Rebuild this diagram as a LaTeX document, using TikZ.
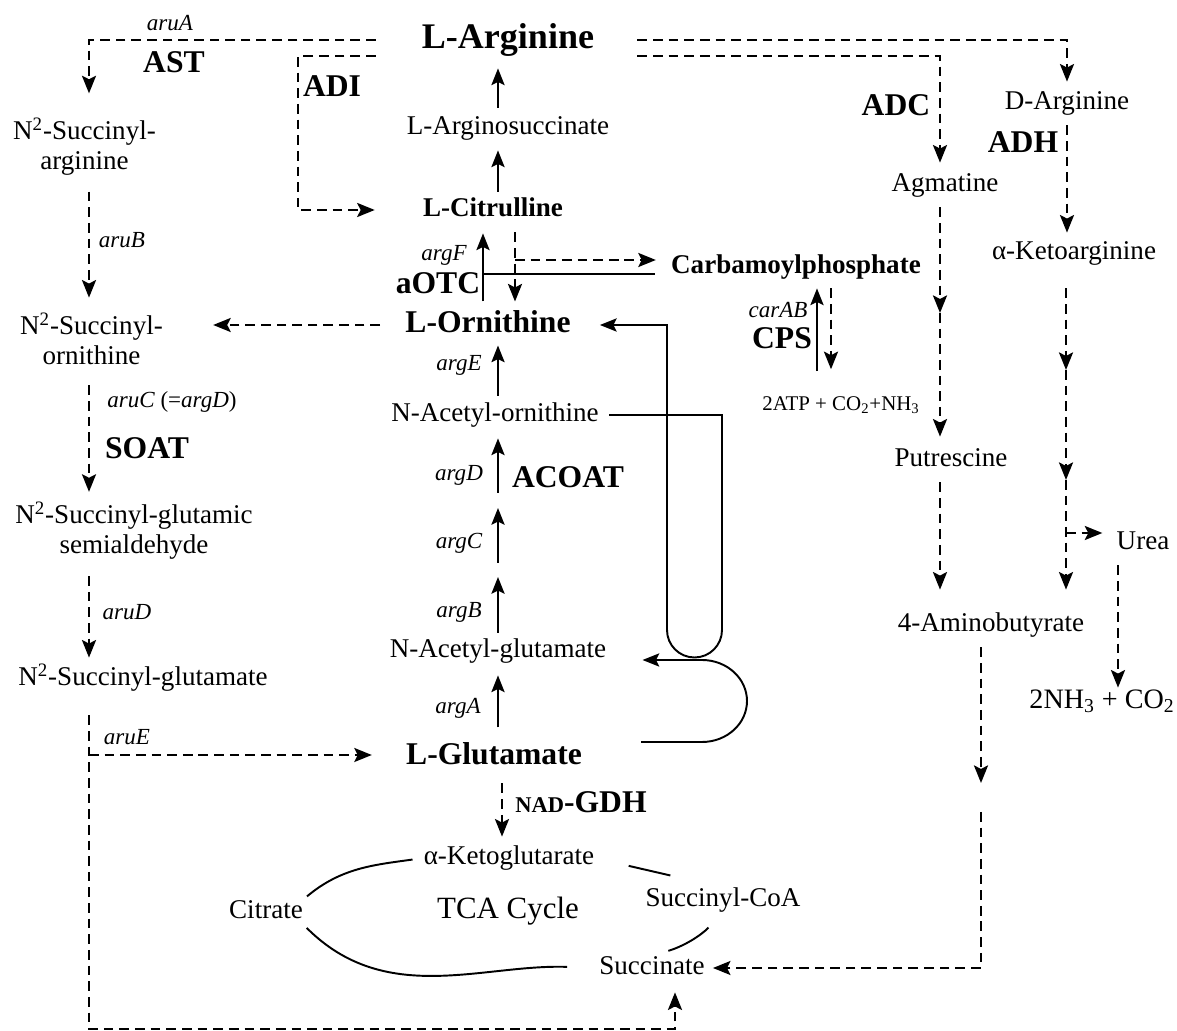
\documentclass[tikz,border=0pt]{standalone}
\usepackage{fontspec}
\setmainfont{Liberation Serif}
\usetikzlibrary{calc,arrows.meta}
\tikzset{
  txt/.style={inner sep=0pt, font=\fontsize{15.4}{17.1}\selectfont, text height=10.5pt, text depth=3.2pt},
  btxt/.style={txt, font=\bfseries\fontsize{15.4}{17.1}\selectfont},
  big/.style={inner sep=0pt, font=\bfseries\fontsize{18}{20}\selectfont, text height=12.3pt, text depth=3.8pt},
  two/.style={inner sep=0pt, align=center, font=\fontsize{15.4}{17.1}\selectfont},
  gene/.style={inner sep=0pt, font=\itshape\fontsize{13.1}{15}\selectfont},
  enz/.style={inner sep=0pt, font=\bfseries\fontsize{18}{20}\selectfont},
  ln/.style={line width=1.1pt},
  ar/.style={line width=1.1pt, -{Stealth[length=9.5pt,width=7.5pt,inset=1.8pt]}},
  dar/.style={line width=1.2pt, dash pattern=on 5.5pt off 3.4pt, -{Stealth[length=10pt,width=8pt,inset=2pt]}}
}
\begin{document}
\begin{tikzpicture}
\useasboundingbox (0,0) rectangle (23.54,-20.62);
\coordinate (lcol) at (1.78,0);
\coordinate (adic) at (5.96,0);
\coordinate (c1) at (9.96,0);
\coordinate (otc) at (9.66,0);
\coordinate (orc) at (10.30,0);
\coordinate (gdh) at (10.04,0);
\coordinate (cpu) at (16.34,0);
\coordinate (cpd) at (16.62,0);
\coordinate (acol) at (18.80,0);
\coordinate (kcol) at (21.32,0);
\coordinate (ucol) at (22.36,0);
\coordinate (gcol) at (19.62,0);
\coordinate (i1) at (9.96,-10.00);
\coordinate (i2) at (9.96,-11.40);
\coordinate (cpb) at (10.30,-5.20);
\coordinate (otcj) at (9.66,-5.48);
\coordinate (lpR) at (14.44,-12.60);
\coordinate (gluR) at (12.82,-14.84);
\coordinate (m1) at (18.80,-6.26);
\coordinate (k1) at (21.32,-7.40);
\coordinate (k2) at (21.32,-9.60);
\coordinate (k3) at (21.32,-10.66);
\coordinate (g1) at (19.62,-15.66);
\coordinate (g2) at (19.62,-16.24);
\coordinate (bot) at (13.50,-20.58);
\coordinate (aruEj) at (1.78,-15.10);

\node[big, font=\bfseries\fontsize{20.5}{22}\selectfont, text height=14pt, text depth=4.3pt] (arg) at (10.16,-0.80) {L-Arginine};
\node[txt] (argsuc) at (10.16,-2.56) {L-Arginosuccinate};
\node[btxt] (cit) at (9.86,-4.20) {L-Citrulline};
\node[big] (orn) at (9.76,-6.50) {L-Ornithine};
\node[txt] (acorn) at (9.90,-8.30) {N-Acetyl-ornithine};
\node[txt] (acglu) at (9.96,-13.02) {N-Acetyl-glutamate};
\node[big] (glu) at (9.88,-15.14) {L-Glutamate};
\node[txt] (akg) at (10.18,-17.16) {α-Ketoglutarate};
\node[txt] (citr) at (5.32,-18.24) {Citrate};
\node[txt, font=\fontsize{17.6}{20}\selectfont] (tca) at (10.16,-18.24) {TCA Cycle};
\node[txt] (sucoa) at (14.46,-18.00) {Succinyl-CoA};
\node[txt] (succ) at (13.04,-19.36) {Succinate};
\node[btxt] (carb) at (15.92,-5.34) {Carbamoylphosphate};
\node[txt, font=\fontsize{11.9}{13}\selectfont, text height=8.2pt, text depth=2.5pt] (atp) at (16.82,-8.10) {2ATP + CO\textsubscript{2}+NH\textsubscript{3}};
\node[two] (sarg) at (1.69,-2.93) {N\textsuperscript{2}-Succinyl-\\arginine};
\node[two] (sorn) at (1.83,-6.78) {N\textsuperscript{2}-Succinyl-\\ornithine};
\node[two] (sglsa) at (2.68,-10.62) {N\textsuperscript{2}-Succinyl-glutamic\\semialdehyde};
\node[txt] (sglu) at (2.86,-13.58) {N\textsuperscript{2}-Succinyl-glutamate};
\node[txt] (darg) at (21.34,-2.06) {D-Arginine};
\node[txt] (agm) at (18.90,-3.70) {Agmatine};
\node[txt] (aketo) at (21.48,-5.06) {α-Ketoarginine};
\node[txt] (put) at (19.02,-9.20) {Putrescine};
\node[txt] (gaba) at (19.82,-12.50) {4-Aminobutyrate};
\node[txt] (urea) at (22.86,-10.86) {Urea};
\node[txt, font=\fontsize{16}{18}\selectfont] (nh3) at (22.04,-14.04) {2NH\textsubscript{3} + CO\textsubscript{2}};

\node[gene] (naruA) at (3.40,-0.46) {aruA};
\node[enz] (nAST) at (3.48,-1.24) {AST};
\node[enz] (nADI) at (6.64,-1.72) {ADI};
\node[gene] (naruB) at (2.44,-4.80) {aruB};
\node[gene] (naruC) at (3.44,-8.04) {aruC {\upshape(=}argD{\upshape)}};
\node[enz] (nSOAT) at (2.94,-8.96) {SOAT};
\node[gene] (naruD) at (2.54,-12.24) {aruD};
\node[gene] (naruE) at (2.54,-14.74) {aruE};
\node[gene] (nargF) at (8.88,-5.10) {argF};
\node[enz] (naOTC) at (8.76,-5.66) {aOTC};
\node[gene] (nargE) at (9.18,-7.30) {argE};
\node[gene] (nargD) at (9.18,-9.50) {argD};
\node[enz] (nACOAT) at (11.36,-9.54) {ACOAT};
\node[gene] (nargC) at (9.18,-10.86) {argC};
\node[gene] (nargB) at (9.18,-12.24) {argB};
\node[gene] (nargA) at (9.16,-14.16) {argA};
\node[enz] (nGDH) at (11.62,-16.04) {{\fontsize{12.8}{14}\selectfont NAD}-GDH};
\node[gene] (ncarAB) at (15.56,-6.20) {carAB};
\node[enz] (nCPS) at (15.64,-6.76) {CPS};
\node[enz] (nADC) at (17.92,-2.10) {ADC};
\node[enz] (nADH) at (20.46,-2.84) {ADH};

\draw[ar, shorten <=0.16cm, shorten >=0.24cm] (argsuc.north -| c1) -- (arg.south -| c1);
\draw[ar, shorten <=0.12cm, shorten >=0.2cm] (cit.north -| c1) -- (argsuc.south -| c1);
\draw[ar, shorten <=0.18cm, shorten >=0.22cm] (orn.north -| otc) -- (cit.south -| otc);
\draw[dar, shorten <=0.2cm, shorten >=0.18cm] (cit.south -| orc) -- (orn.north -| orc);
\draw[dar, shorten >=0.3cm] (cpb) -- (cpb -| carb.west);
\draw[ln, shorten >=0.32cm] (otcj) -- (otcj -| carb.west);
\draw[ar, shorten <=0.14cm, shorten >=0.12cm] (acorn.north -| c1) -- (orn.south -| c1);
\draw[ar, shorten <=0.14cm, shorten >=0.22cm] (i1) -- (acorn.south -| c1);
\draw[ar, shorten <=0.14cm, shorten >=0.16cm] (i2) -- (i1);
\draw[ar, shorten <=0.12cm, shorten >=0.14cm] (acglu.north -| c1) -- (i2);
\draw[ar, shorten <=0.3cm, shorten >=0.24cm] (glu.north -| c1) -- (acglu.south -| c1);
\draw[dar, shorten <=0.24cm, shorten >=0.18cm] (glu.south -| gdh) -- (akg.north -| gdh);
\draw[ar, shorten <=0.48cm, shorten >=0.18cm] (atp.north -| cpu) -- (carb.south -| cpu);
\draw[dar, shorten <=0.18cm, shorten >=0.52cm] (carb.south -| cpd) -- (atp.north -| cpd);
\draw[ar, shorten <=0.2cm, shorten >=0.58cm] (acorn.east) -| (lpR) arc[start angle=0, end angle=-180, radius=0.55] |- (orn.east);
\draw[ar, shorten >=0.72cm] (gluR) -- ++(1.22,0) arc[start angle=-90, end angle=90, x radius=0.9, y radius=0.82] coordinate (nagT) -- (nagT -| acglu.east);

\draw[dar, shorten <=0.92cm, shorten >=0.48cm] (arg.west) -| (sarg.north -| lcol);
\draw[dar, shorten <=0.92cm, shorten >=0.96cm] (arg.south west) -- (arg.south west -| adic) |- (cit.west);
\draw[dar, shorten <=0.32cm, shorten >=0.3cm] (sarg.south -| lcol) -- (sorn.north -| lcol);
\draw[dar, shorten <=0.4cm, shorten >=0.2cm] (sorn.south -| lcol) -- (sglsa.north -| lcol);
\draw[dar, shorten <=0.32cm, shorten >=0.18cm] (sglsa.south -| lcol) -- (sglu.north -| lcol);
\draw[dar, shorten <=0.5cm, shorten >=1.0cm] (orn.west) -- (orn.west -| sorn.east);
\draw[dar, shorten <=0.48cm, shorten >=0.24cm] (sglu.south -| lcol) |- (bot) -- (succ.south -| bot);
\draw[dar, shorten >=0.68cm] (aruEj) -- (aruEj -| glu.west);

\draw[dar, shorten <=0.86cm, shorten >=0.18cm] (arg.east) -| (darg.north);
\draw[dar, shorten <=0.86cm, shorten >=0.2cm] (arg.south east) -| (agm.north -| acol);
\draw[dar, shorten <=0.2cm, shorten >=0.16cm] (darg.south) -- (darg.south |- aketo.north);
\draw[dar, shorten <=0.2cm] (agm.south -| acol) -- (m1);
\draw[dar, shorten >=0.22cm] (m1) -- (put.north -| acol);
\draw[dar, shorten <=0.2cm, shorten >=0.46cm] (put.south -| acol) -- (gaba.north -| acol);
\draw[dar, shorten <=0.46cm] (aketo.south -| kcol) -- (k1);
\draw[dar] (k1) -- (k2);
\draw[dar, shorten >=0.46cm] (k2) -- (gaba.north -| kcol);
\draw[dar, shorten >=0.28cm] (k3) -- (k3 -| urea.west);
\draw[dar, shorten <=0.2cm, shorten >=0.04cm] (urea.south -| ucol) -- (nh3.north -| ucol);
\draw[dar, shorten <=0.2cm] (gaba.south -| gcol) -- (g1);
\draw[dar, shorten >=0.16cm] (g2) |- (succ.east);

\draw[ln, shorten <=0.22cm, shorten >=0.1cm] (akg.west) to[out=188,in=40] (citr.north east);
\draw[ln, shorten <=0.1cm, shorten >=0.64cm] (citr.south east) to[out=-45,in=178] (succ.west);
\draw[ln, shorten <=0.7cm, shorten >=1.08cm] (akg.east) -- (sucoa.north);
\draw[ln, shorten <=0.42cm, shorten >=0.34cm] (sucoa.south) to[bend left=15] (succ.north);
\end{tikzpicture}
\end{document}
